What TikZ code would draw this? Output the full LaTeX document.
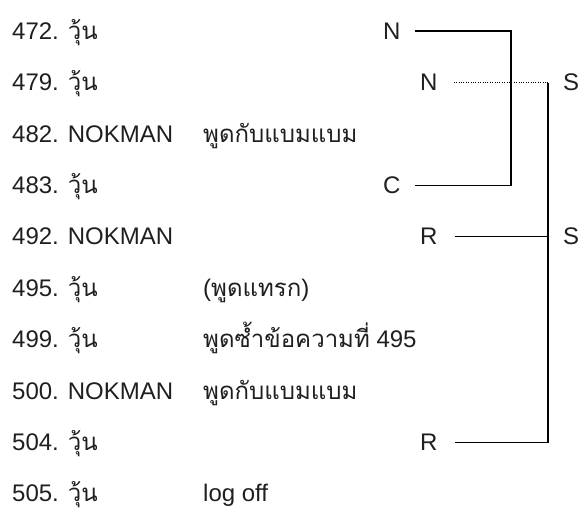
\documentclass[tikz,border=0pt]{standalone}
\usepackage{fontspec}
\setmainfont{Liberation Sans}
\newfontfamily\thaifont[Script=Thai]{Loma}
\newcommand{\thai}[1]{{\thaifont #1}}
\usetikzlibrary{positioning}

\begin{document}
\begin{tikzpicture}[x=1pt, y=-1pt,
  txt/.style={inner sep=0pt, anchor=base west, text=black!88, font=\fontsize{24}{28}\selectfont},
  link/.style={line width=1.5pt},
  dots/.style={line width=0.9pt, dash pattern=on 0.9pt off 1.5pt}]
  \useasboundingbox (0,0) rectangle (582,510);
  \foreach \n/\who/\what [count=\i from 0] in {
    472/\thai{วุ้น}/{},
    479/\thai{วุ้น}/{},
    482/NOKMAN/\thai{พูดกับแบมแบม},
    483/\thai{วุ้น}/{},
    492/NOKMAN/{},
    495/\thai{วุ้น}/(\thai{พูดแทรก}),
    499/\thai{วุ้น}/\thai{พูดซ้ำข้อความที่} 495,
    500/NOKMAN/\thai{พูดกับแบมแบม},
    504/\thai{วุ้น}/{},
    505/\thai{วุ้น}/log off}
  {
    \node[txt] (id\n) at (12, 39.4+51.4*\i) {\n. \who};
    \node[txt] (say\n) at (203, 39.4+51.4*\i) {\what};
  }
  \node[txt] (n472) at (383, 39.4) {N};
  \node[txt] (n479) at (420, 90.8) {N};
  \node[txt] (c483) at (383, 193.6) {C};
  \node[txt] (r492) at (420, 245.0) {R};
  \node[txt] (r504) at (420, 450.6) {R};
  \node[txt] (s479) at (563, 90.8) {S};
  \node[txt] (s492) at (563, 245.0) {S};
  \coordinate (j472) at (511, 0 |- n472.east);
  \coordinate (j483) at (511, 0 |- c483.east);
  \coordinate (j479) at (548, 0 |- n479.east);
  \coordinate (j492) at (548, 0 |- r492.east);
  \coordinate (j504) at (548, 0 |- r504.east);
  \draw[link, shorten <=14pt, shorten >=14pt] (n472.east) -- (j472) -- (j483) -- (c483.east);
  \draw[dots, shorten <=16pt] (n479.east) -- (j479);
  \draw[link, shorten >=17pt] (j479) -- (j504) -- (r504.east);
  \draw[link, shorten <=17pt] (r492.east) -- (j492);
\end{tikzpicture}
\end{document}
